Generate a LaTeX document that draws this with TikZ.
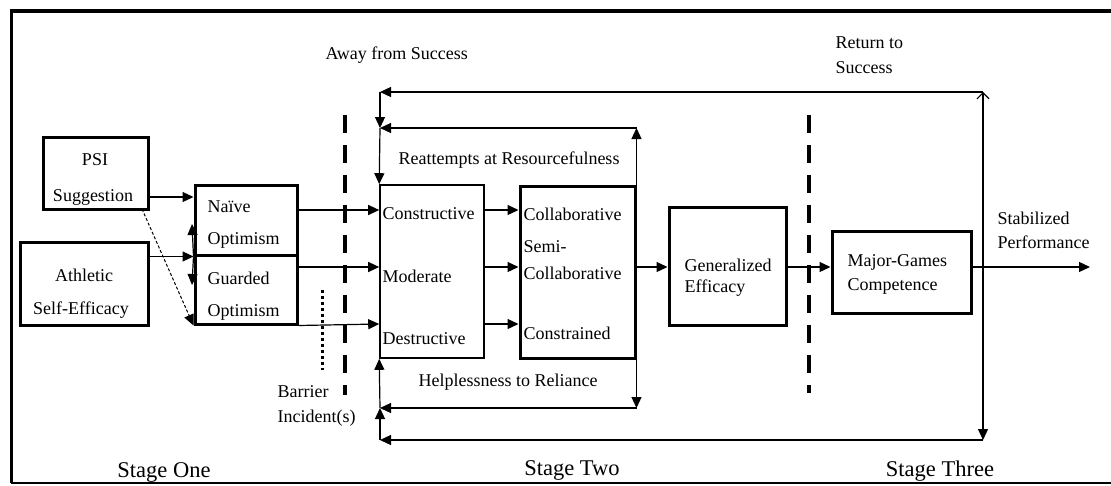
\documentclass[tikz,border=0pt]{standalone}
\usepackage{fontspec}
\setmainfont{Liberation Serif}
\usetikzlibrary{arrows.meta}
\usetikzlibrary{calc}

\begin{document}
\begin{tikzpicture}[x=1pt, y=-1pt, line width=1.2pt,
        box_style/.style={draw=black, line width=3pt, inner sep=0pt},
        thin_box_style/.style={draw=black, line width=1.6pt, inner sep=0pt},
        label_style/.style={font=\fontsize{18}{21}\selectfont, inner sep=0pt},
        item_style/.style={label_style, anchor=west},
        stage_style/.style={font=\fontsize{22.5}{26}\selectfont, inner sep=0pt},
        edge_style/.style={draw=black, line width=1.2pt, -{Triangle[length=11pt,width=10pt]}},
        open_edge_style/.style={draw=black, line width=1.2pt, -{Straight Barb[length=6pt,width=12pt]}},
        line_style/.style={draw=black, line width=1.2pt, -},
        barrier_style/.style={draw=black, line width=3.5pt, dash pattern=on 18pt off 12pt},
        incident_style/.style={draw=black, line width=3pt, dash pattern=on 3pt off 3pt}]

        \useasboundingbox (0,0) rectangle (1111,485);
        % frame
        \draw[line width=4pt] (10.5,10.5) -- (1111,10.5);
        \draw[line width=2.5pt] (11.5,9) -- (11.5,483);
        \draw[line width=1.5pt] (10.5,483) -- (1111,483);

        % boxes
        \node [box_style, minimum width=105, minimum height=72] (psi) at (95.5,173) {};
        \node [box_style, minimum width=128, minimum height=83] (ath) at (84,283.5) {};
        \node [box_style, minimum width=102, minimum height=70] (naive) at (246,220) {};
        \node [box_style, minimum width=102, minimum height=69] (guard) at (246,289.5) {};
        \node [thin_box_style, minimum width=104, minimum height=173] (cons) at (432,271.5) {};
        \node [box_style, minimum width=115, minimum height=172] (collab) at (577.5,272) {};
        \node [box_style, minimum width=117, minimum height=118] (gen) at (727.5,266) {};
        \node [box_style, minimum width=139, minimum height=82] (major) at (901.5,272) {};

        % box texts
        \node [label_style] (psi_t1) at (95,160) {PSI};
        \node [label_style] (psi_t2) at (93,197) {Suggestion};
        \node [label_style] (ath_t1) at (84,275) {Athletic};
        \node [label_style] (ath_t2) at (81,310) {Self-Efficacy};
        \node [item_style] (naive_t1) at (207,207) {Naïve};
        \node [item_style] (naive_t2) at (207,240) {Optimism};
        \node [item_style] (guard_t1) at (207,278) {Guarded};
        \node [item_style] (guard_t2) at (207,312) {Optimism};
        \node [item_style] (cons_t1) at (382,214) {Constructive};
        \node [item_style] (cons_t2) at (382,276) {Moderate};
        \node [item_style] (cons_t3) at (382,339) {Destructive};
        \node [item_style] (collab_t1) at (523,214) {Collaborative};
        \node [item_style] (collab_t2) at (523,247) {Semi-};
        \node [item_style] (collab_t3) at (523,273) {Collaborative};
        \node [item_style] (collab_t4) at (523,333) {Constrained};
        \node [item_style] (gen_t1) at (684,265) {Generalized};
        \node [item_style] (gen_t2) at (684,288) {Efficacy};
        \node [item_style] (major_t1) at (847,262) {Major-Games};
        \node [item_style] (major_t2) at (847,286) {Competence};

        % free texts
        \node [item_style] (away) at (325,55) {Away from Success};
        \node [item_style] (ret_t1) at (835,43) {Return to};
        \node [item_style] (ret_t2) at (835,68) {Success};
        \node [item_style] (stab_t1) at (997,218) {Stabilized};
        \node [item_style] (stab_t2) at (997,242) {Performance};
        \node [item_style] (bar_t1) at (277,392) {Barrier};
        \node [item_style] (bar_t2) at (277,418) {Incident(s)};
        \node [label_style] (reatt) at (509,160) {Reattempts at Resourcefulness};
        \node [label_style] (helpl) at (508,382) {Helplessness to Reliance};
        \node [stage_style] (stage1) at (164,472) {Stage One};
        \node [stage_style] (stage2) at (572,470) {Stage Two};
        \node [stage_style] (stage3) at (940,471) {Stage Three};

        % levels and bends
        \coordinate (rowA) at (0,210);
        \coordinate (rowB) at (0,267);
        \coordinate (rowC) at (0,324);
        \coordinate (junc) at (naive.south west);
        \coordinate (junc_up) at (192,224);
        \coordinate (junc_dn) at (192,285);
        \coordinate (psi_out) at (142,209);
        \coordinate (out_end) at (1090,267);
        \coordinate (ret_top) at (983,92);
        \coordinate (ret_bot) at (983,440);
        \coordinate (fb_top) at (380,92);
        \coordinate (fb_mid) at (380,128);
        \coordinate (fb_low) at (380,408);
        \coordinate (fb_bot) at (380,440);

        % stage one
        \draw [edge_style] (psi.east |- psi_t2) -- (naive.west |- psi_t2);
        \draw [edge_style] (ath.east |- junc) -- (junc);
        \draw [edge_style] (junc) -- (junc_up);
        \draw [edge_style] (junc) -- (junc_dn);
        \draw [edge_style, densely dashed, line width=1pt] (psi_out) -- (guard.south west);
        \draw [edge_style] (naive.east |- rowA) -- (cons.west |- rowA);
        \draw [edge_style] (guard.east |- rowB) -- (cons.west |- rowB);
        \draw [edge_style] (guard.south east) -- (cons.west |- rowC);

        % stage two
        \draw [edge_style] (cons.east |- rowA) -- (collab.west |- rowA);
        \draw [edge_style] (cons.east |- rowB) -- (collab.west |- rowB);
        \draw [edge_style] (cons.east |- rowC) -- (collab.west |- rowC);
        \draw [edge_style] (collab.east |- rowB) -- (gen.west |- rowB);
        \draw [edge_style] (gen.east |- rowB) -- (major.west |- rowB);
        \draw [edge_style] (major.east |- rowB) -- (out_end);

        % loops
        \draw [open_edge_style] (ret_top |- rowB) -- (ret_top);
        \draw [edge_style] (ret_top |- rowB) -- (ret_bot);
        \draw [edge_style] (ret_top) -- (fb_top);
        \draw [edge_style] (fb_top) -- (fb_mid);
        \draw [edge_style] (collab.north east) -- (collab.north east |- fb_mid);
        \draw [edge_style] (collab.north east |- fb_mid) -- (fb_mid);
        \draw [edge_style] (fb_mid) -- (cons.north west);
        \draw [edge_style] (collab.south east) -- (collab.south east |- fb_low);
        \draw [edge_style] (collab.south east |- fb_low) -- (fb_low);
        \draw [edge_style] (ret_bot) -- (fb_bot);
        \draw [edge_style] (fb_bot) -- (fb_low);
        \draw [edge_style] (fb_low) -- (cons.south west);

        % barriers
        \draw [barrier_style] (345,115) -- (345,395);
        \draw [barrier_style] (809,115) -- (809,393);
        \draw [incident_style] (322,290) -- (322,370);
\end{tikzpicture}
\end{document}
